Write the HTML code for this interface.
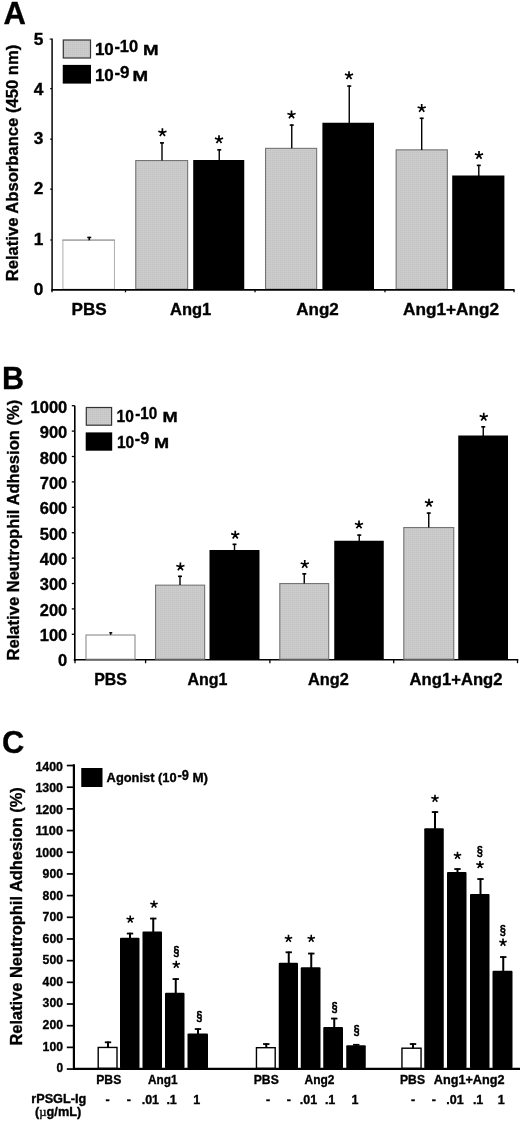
<!DOCTYPE html>
<html><head><meta charset="utf-8"><title>Figure</title>
<style>html,body{margin:0;padding:0;background:#fff;}svg{display:block;will-change:transform;}text{font-family:"Liberation Sans", sans-serif;fill:#000;stroke:#000;stroke-width:0.35px;}</style>
</head><body>
<svg width="520" height="1121" viewBox="0 0 520 1121">
<defs>
<pattern id="dots" width="2" height="2" patternUnits="userSpaceOnUse"><rect width="2" height="2" fill="#cbcbcb"/><rect width="1" height="1" fill="#c2c2c2"/></pattern>
<g id="ast"><path d="M0 0L0.00 -4.30M0 0L4.09 -1.33M0 0L2.53 3.48M0 0L-2.53 3.48M0 0L-4.09 -1.33" stroke="#000" stroke-width="1.7" stroke-linecap="butt" fill="none"/></g>
<g id="astc"><path d="M0 0L0.00 -3.90M0 0L3.71 -1.21M0 0L2.29 3.16M0 0L-2.29 3.16M0 0L-3.71 -1.21" stroke="#000" stroke-width="1.6" stroke-linecap="butt" fill="none"/></g>
</defs>
<rect width="520" height="1121" fill="#fff"/>
<text x="3.4" y="24.1" font-size="31" text-anchor="start" font-weight="bold">A</text>
<rect x="62.9" y="240.1" width="51.5" height="49.1" fill="#fff" stroke="#a4a4a4" stroke-width="0.9"/>
<line x1="62.4" y1="240.05" x2="114.9" y2="240.05" stroke="#8c8c8c" stroke-width="0.9"/>
<rect x="135.75" y="160.55" width="51.9" height="128.65" fill="url(#dots)" stroke="#747474" stroke-width="1.1"/>
<rect x="193.2" y="160" width="51.05" height="129.2" fill="#000"/>
<rect x="265.55" y="148.35000000000002" width="51.1" height="140.85" fill="url(#dots)" stroke="#747474" stroke-width="1.1"/>
<rect x="322.4" y="122.75" width="51.6" height="166.45" fill="#000"/>
<rect x="396.15000000000003" y="149.85000000000002" width="51.2" height="139.35" fill="url(#dots)" stroke="#747474" stroke-width="1.1"/>
<rect x="452.2" y="175.5" width="52.2" height="113.7" fill="#000"/>
<line x1="162" y1="142.3" x2="162" y2="160.5" stroke="#000" stroke-width="1.4"/>
<line x1="160.0" y1="142.90000000000003" x2="164.0" y2="142.90000000000003" stroke="#000" stroke-width="1.6"/>
<line x1="219.25" y1="149.25" x2="219.25" y2="160.5" stroke="#000" stroke-width="1.4"/>
<line x1="217.25" y1="149.85000000000002" x2="221.25" y2="149.85000000000002" stroke="#000" stroke-width="1.6"/>
<line x1="291.75" y1="124.5" x2="291.75" y2="148.3" stroke="#000" stroke-width="1.4"/>
<line x1="289.75" y1="125.1" x2="293.75" y2="125.1" stroke="#000" stroke-width="1.6"/>
<line x1="349.25" y1="85.5" x2="349.25" y2="123.25" stroke="#000" stroke-width="1.4"/>
<line x1="347.25" y1="86.1" x2="351.25" y2="86.1" stroke="#000" stroke-width="1.6"/>
<line x1="421.7" y1="117.7" x2="421.7" y2="150.0" stroke="#000" stroke-width="1.4"/>
<line x1="419.7" y1="118.3" x2="423.7" y2="118.3" stroke="#000" stroke-width="1.6"/>
<line x1="478.8" y1="164.8" x2="478.8" y2="176.1" stroke="#000" stroke-width="1.4"/>
<line x1="476.8" y1="165.40000000000003" x2="480.8" y2="165.40000000000003" stroke="#000" stroke-width="1.6"/>
<line x1="89.25" y1="236.9" x2="89.25" y2="240.3" stroke="#000" stroke-width="1.6"/>
<line x1="87.25" y1="237.45000000000002" x2="91.25" y2="237.45000000000002" stroke="#000" stroke-width="1.5"/>
<use href="#ast" x="162.4" y="132.6"/>
<use href="#ast" x="219" y="139.5"/>
<use href="#ast" x="291.5" y="114.8"/>
<use href="#ast" x="349" y="75.5"/>
<use href="#ast" x="421.7" y="108.3"/>
<use href="#ast" x="479" y="155.2"/>
<line x1="52.1" y1="38.6" x2="52.1" y2="290.6" stroke="#222" stroke-width="1.7"/>
<line x1="51.3" y1="289.9" x2="514.6" y2="289.9" stroke="#000" stroke-width="1.6"/>
<text x="43.4" y="295.4" font-size="17.3" text-anchor="end" font-weight="bold">0</text>
<line x1="50.2" y1="240.0" x2="52" y2="240.0" stroke="#000" stroke-width="1.2"/>
<text x="43.4" y="244.8" font-size="17.3" text-anchor="end" font-weight="bold">1</text>
<line x1="50.2" y1="189.2" x2="52" y2="189.2" stroke="#000" stroke-width="1.2"/>
<text x="43.4" y="194.3" font-size="17.3" text-anchor="end" font-weight="bold">2</text>
<line x1="50.2" y1="139.2" x2="52" y2="139.2" stroke="#000" stroke-width="1.2"/>
<text x="43.4" y="144.0" font-size="17.3" text-anchor="end" font-weight="bold">3</text>
<line x1="50.2" y1="88.7" x2="52" y2="88.7" stroke="#000" stroke-width="1.2"/>
<text x="43.4" y="94.5" font-size="17.3" text-anchor="end" font-weight="bold">4</text>
<line x1="49.6" y1="39.1" x2="52" y2="39.1" stroke="#000" stroke-width="1.0"/>
<text x="43.4" y="44.8" font-size="17.3" text-anchor="end" font-weight="bold">5</text>
<line x1="52" y1="290" x2="52" y2="292.3" stroke="#000" stroke-width="1.3"/>
<line x1="125.5" y1="290" x2="125.5" y2="292.3" stroke="#000" stroke-width="1.3"/>
<line x1="255" y1="290" x2="255" y2="292.3" stroke="#000" stroke-width="1.3"/>
<line x1="385" y1="290" x2="385" y2="292.3" stroke="#000" stroke-width="1.3"/>
<line x1="514" y1="290" x2="514" y2="292.3" stroke="#000" stroke-width="1.3"/>
<text x="71.5" y="315" font-size="16.5" text-anchor="start" font-weight="bold" textLength="35.25" lengthAdjust="spacingAndGlyphs">PBS</text>
<text x="170" y="315" font-size="16.5" text-anchor="start" font-weight="bold" textLength="41.25" lengthAdjust="spacingAndGlyphs">Ang1</text>
<text x="296.25" y="315" font-size="16.5" text-anchor="start" font-weight="bold" textLength="42.5" lengthAdjust="spacingAndGlyphs">Ang2</text>
<text x="403" y="315" font-size="16.5" text-anchor="start" font-weight="bold" textLength="96" lengthAdjust="spacingAndGlyphs">Ang1+Ang2</text>
<rect x="63.3" y="40" width="27.2" height="18" fill="url(#dots)" stroke="#333" stroke-width="1.2"/>
<rect x="62.75" y="64.9" width="28.25" height="18.7" fill="#000"/>
<text x="94.9" y="54.9" font-size="17" text-anchor="start" font-weight="bold">10</text>
<text x="114.4" y="51.6" font-size="17" text-anchor="start" font-weight="bold" textLength="23.8" lengthAdjust="spacingAndGlyphs">-10</text>
<text x="143.1" y="54.9" font-size="15" text-anchor="start" font-weight="bold" textLength="15.6" lengthAdjust="spacingAndGlyphs">M</text>
<text x="94.9" y="81.2" font-size="17" text-anchor="start" font-weight="bold">10</text>
<text x="114.4" y="77.9" font-size="17" text-anchor="start" font-weight="bold" textLength="15.1" lengthAdjust="spacingAndGlyphs">-9</text>
<text x="132.6" y="81.2" font-size="15" text-anchor="start" font-weight="bold" textLength="15.6" lengthAdjust="spacingAndGlyphs">M</text>
<text transform="translate(18.2,281.3) rotate(-90)" x="0" y="0" font-size="16.5" font-weight="bold" textLength="236.5" lengthAdjust="spacingAndGlyphs">Relative Absorbance (450 nm)</text>
<text x="1.9" y="388.7" font-size="30.5" text-anchor="start" font-weight="bold">B</text>
<line x1="74.8" y1="405.8" x2="74.8" y2="661" stroke="#000" stroke-width="1.6"/>
<line x1="73.7" y1="659.75" x2="518.3" y2="659.75" stroke="#000" stroke-width="1.6"/>
<text x="67.3" y="666.35" font-size="16.5" text-anchor="end" font-weight="bold">0</text>
<line x1="71.8" y1="634.3000000000001" x2="74.8" y2="634.3000000000001" stroke="#000" stroke-width="1.3"/>
<text x="67.3" y="641.02" font-size="16.5" text-anchor="end" font-weight="bold">100</text>
<line x1="71.8" y1="608.9000000000001" x2="74.8" y2="608.9000000000001" stroke="#000" stroke-width="1.3"/>
<text x="67.3" y="615.69" font-size="16.5" text-anchor="end" font-weight="bold">200</text>
<line x1="71.8" y1="583.5" x2="74.8" y2="583.5" stroke="#000" stroke-width="1.3"/>
<text x="67.3" y="590.36" font-size="16.5" text-anchor="end" font-weight="bold">300</text>
<line x1="71.8" y1="558.1" x2="74.8" y2="558.1" stroke="#000" stroke-width="1.3"/>
<text x="67.3" y="565.03" font-size="16.5" text-anchor="end" font-weight="bold">400</text>
<line x1="71.8" y1="532.7" x2="74.8" y2="532.7" stroke="#000" stroke-width="1.3"/>
<text x="67.3" y="539.7" font-size="16.5" text-anchor="end" font-weight="bold">500</text>
<line x1="71.8" y1="507.3" x2="74.8" y2="507.3" stroke="#000" stroke-width="1.3"/>
<text x="67.3" y="514.37" font-size="16.5" text-anchor="end" font-weight="bold">600</text>
<line x1="71.8" y1="481.90000000000003" x2="74.8" y2="481.90000000000003" stroke="#000" stroke-width="1.3"/>
<text x="67.3" y="489.04" font-size="16.5" text-anchor="end" font-weight="bold">700</text>
<line x1="71.8" y1="456.5" x2="74.8" y2="456.5" stroke="#000" stroke-width="1.3"/>
<text x="67.3" y="463.71" font-size="16.5" text-anchor="end" font-weight="bold">800</text>
<line x1="71.8" y1="431.09999999999997" x2="74.8" y2="431.09999999999997" stroke="#000" stroke-width="1.3"/>
<text x="67.3" y="438.38" font-size="16.5" text-anchor="end" font-weight="bold">900</text>
<line x1="71.8" y1="405.7" x2="74.8" y2="405.7" stroke="#000" stroke-width="1.3"/>
<text x="67.3" y="413.05" font-size="16.5" text-anchor="end" font-weight="bold">1000</text>
<line x1="75" y1="660" x2="75" y2="663.2" stroke="#000" stroke-width="1.3"/>
<line x1="145.6" y1="660" x2="145.6" y2="663.2" stroke="#000" stroke-width="1.3"/>
<line x1="269.9" y1="660" x2="269.9" y2="663.2" stroke="#000" stroke-width="1.3"/>
<line x1="393.7" y1="660" x2="393.7" y2="663.2" stroke="#000" stroke-width="1.3"/>
<line x1="517.5" y1="660" x2="517.5" y2="663.2" stroke="#000" stroke-width="1.3"/>
<rect x="86.0" y="635.0" width="49.0" height="24.2" fill="#fff" stroke="#808080" stroke-width="1"/>
<rect x="155.55" y="585.15" width="49.1" height="74.05" fill="url(#dots)" stroke="#747474" stroke-width="1.1"/>
<rect x="209.5" y="550" width="50.0" height="109.2" fill="#000"/>
<rect x="279.8" y="583.55" width="48.9" height="75.65" fill="url(#dots)" stroke="#747474" stroke-width="1.1"/>
<rect x="334.25" y="540.75" width="49.5" height="118.45" fill="#000"/>
<rect x="403.8" y="527.55" width="49.95" height="131.65" fill="url(#dots)" stroke="#747474" stroke-width="1.1"/>
<rect x="458.25" y="435.5" width="49.75" height="223.7" fill="#000"/>
<line x1="180" y1="575.75" x2="180" y2="585.1" stroke="#000" stroke-width="1.4"/>
<line x1="178.0" y1="576.3499999999999" x2="182.0" y2="576.3499999999999" stroke="#000" stroke-width="1.6"/>
<line x1="234.5" y1="543.75" x2="234.5" y2="550.5" stroke="#000" stroke-width="1.4"/>
<line x1="232.5" y1="544.3499999999999" x2="236.5" y2="544.3499999999999" stroke="#000" stroke-width="1.6"/>
<line x1="304.25" y1="573.25" x2="304.25" y2="583.5" stroke="#000" stroke-width="1.4"/>
<line x1="302.25" y1="573.8499999999999" x2="306.25" y2="573.8499999999999" stroke="#000" stroke-width="1.6"/>
<line x1="359.25" y1="534.5" x2="359.25" y2="541.25" stroke="#000" stroke-width="1.4"/>
<line x1="357.25" y1="535.0999999999999" x2="361.25" y2="535.0999999999999" stroke="#000" stroke-width="1.6"/>
<line x1="428.75" y1="512.5" x2="428.75" y2="527.5" stroke="#000" stroke-width="1.4"/>
<line x1="426.75" y1="513.0999999999999" x2="430.75" y2="513.0999999999999" stroke="#000" stroke-width="1.6"/>
<line x1="483.25" y1="426.25" x2="483.25" y2="436.0" stroke="#000" stroke-width="1.4"/>
<line x1="481.25" y1="426.85" x2="485.25" y2="426.85" stroke="#000" stroke-width="1.6"/>
<line x1="110.75" y1="632.3" x2="110.75" y2="635" stroke="#000" stroke-width="1.2"/>
<line x1="109.25" y1="632.8" x2="112.25" y2="632.8" stroke="#000" stroke-width="1.4"/>
<use href="#ast" x="180.4" y="566.8"/>
<use href="#ast" x="235.25" y="535"/>
<use href="#ast" x="304.75" y="564.3"/>
<use href="#ast" x="359" y="524.8"/>
<use href="#ast" x="429" y="503"/>
<use href="#ast" x="483.75" y="417"/>
<text x="94.25" y="684.6" font-size="16.5" text-anchor="start" font-weight="bold" textLength="32.75" lengthAdjust="spacingAndGlyphs">PBS</text>
<text x="187.5" y="684.6" font-size="16.5" text-anchor="start" font-weight="bold" textLength="40.0" lengthAdjust="spacingAndGlyphs">Ang1</text>
<text x="308" y="684.6" font-size="16.5" text-anchor="start" font-weight="bold" textLength="40.75" lengthAdjust="spacingAndGlyphs">Ang2</text>
<text x="409.6" y="684.6" font-size="16.5" text-anchor="start" font-weight="bold" textLength="92.9" lengthAdjust="spacingAndGlyphs">Ang1+Ang2</text>
<rect x="86.3" y="407.5" width="25.3" height="17.7" fill="url(#dots)" stroke="#333" stroke-width="1.2"/>
<rect x="85.7" y="432.4" width="26.5" height="18.3" fill="#000"/>
<text x="116.6" y="422.2" font-size="16" text-anchor="start" font-weight="bold" textLength="17.3" lengthAdjust="spacingAndGlyphs">10</text>
<text x="135.2" y="418.8" font-size="16" text-anchor="start" font-weight="bold" textLength="22" lengthAdjust="spacingAndGlyphs">-10</text>
<text x="162.4" y="422.2" font-size="15" text-anchor="start" font-weight="bold" textLength="15.2" lengthAdjust="spacingAndGlyphs">M</text>
<text x="116.9" y="447.5" font-size="16" text-anchor="start" font-weight="bold" textLength="17.3" lengthAdjust="spacingAndGlyphs">10</text>
<text x="134.8" y="443.9" font-size="16" text-anchor="start" font-weight="bold" textLength="14.3" lengthAdjust="spacingAndGlyphs">-9</text>
<text x="153.9" y="447.5" font-size="15" text-anchor="start" font-weight="bold" textLength="15.1" lengthAdjust="spacingAndGlyphs">M</text>
<text transform="translate(19,660.4) rotate(-90)" x="0" y="0" font-size="16.5" font-weight="bold" textLength="260.59999999999997" lengthAdjust="spacingAndGlyphs">Relative Neutrophil Adhesion (%)</text>
<text x="2.0" y="753" font-size="30.8" text-anchor="start" font-weight="bold">C</text>
<line x1="73.9" y1="764.3" x2="73.9" y2="1070.1" stroke="#000" stroke-width="2.2"/>
<line x1="73.2" y1="1068.9" x2="520" y2="1068.9" stroke="#000" stroke-width="2.4"/>
<line x1="66.8" y1="1069.05" x2="73.9" y2="1069.05" stroke="#000" stroke-width="1.7"/>
<text x="56.4" y="1072.06" font-size="13" text-anchor="start" font-weight="bold" textLength="6.6" lengthAdjust="spacingAndGlyphs">0</text>
<line x1="66.8" y1="1047.37" x2="73.9" y2="1047.37" stroke="#000" stroke-width="1.7"/>
<text x="42.6" y="1050.53" font-size="13" text-anchor="start" font-weight="bold" textLength="20.4" lengthAdjust="spacingAndGlyphs">100</text>
<line x1="66.8" y1="1025.69" x2="73.9" y2="1025.69" stroke="#000" stroke-width="1.7"/>
<text x="42.6" y="1029.0" font-size="13" text-anchor="start" font-weight="bold" textLength="20.4" lengthAdjust="spacingAndGlyphs">200</text>
<line x1="66.8" y1="1004.01" x2="73.9" y2="1004.01" stroke="#000" stroke-width="1.7"/>
<text x="42.6" y="1007.4699999999999" font-size="13" text-anchor="start" font-weight="bold" textLength="20.4" lengthAdjust="spacingAndGlyphs">300</text>
<line x1="66.8" y1="982.3299999999999" x2="73.9" y2="982.3299999999999" stroke="#000" stroke-width="1.7"/>
<text x="42.6" y="985.9399999999999" font-size="13" text-anchor="start" font-weight="bold" textLength="20.4" lengthAdjust="spacingAndGlyphs">400</text>
<line x1="66.8" y1="960.65" x2="73.9" y2="960.65" stroke="#000" stroke-width="1.7"/>
<text x="42.6" y="964.41" font-size="13" text-anchor="start" font-weight="bold" textLength="20.4" lengthAdjust="spacingAndGlyphs">500</text>
<line x1="66.8" y1="938.97" x2="73.9" y2="938.97" stroke="#000" stroke-width="1.7"/>
<text x="42.6" y="942.8799999999999" font-size="13" text-anchor="start" font-weight="bold" textLength="20.4" lengthAdjust="spacingAndGlyphs">600</text>
<line x1="66.8" y1="917.29" x2="73.9" y2="917.29" stroke="#000" stroke-width="1.7"/>
<text x="42.6" y="921.3499999999999" font-size="13" text-anchor="start" font-weight="bold" textLength="20.4" lengthAdjust="spacingAndGlyphs">700</text>
<line x1="66.8" y1="895.6099999999999" x2="73.9" y2="895.6099999999999" stroke="#000" stroke-width="1.7"/>
<text x="42.6" y="899.8199999999999" font-size="13" text-anchor="start" font-weight="bold" textLength="20.4" lengthAdjust="spacingAndGlyphs">800</text>
<line x1="66.8" y1="873.93" x2="73.9" y2="873.93" stroke="#000" stroke-width="1.7"/>
<text x="42.6" y="878.29" font-size="13" text-anchor="start" font-weight="bold" textLength="20.4" lengthAdjust="spacingAndGlyphs">900</text>
<line x1="66.8" y1="852.25" x2="73.9" y2="852.25" stroke="#000" stroke-width="1.7"/>
<text x="35.4" y="856.76" font-size="13" text-anchor="start" font-weight="bold" textLength="27.6" lengthAdjust="spacingAndGlyphs">1000</text>
<line x1="66.8" y1="830.5699999999999" x2="73.9" y2="830.5699999999999" stroke="#000" stroke-width="1.7"/>
<text x="35.4" y="835.2299999999999" font-size="13" text-anchor="start" font-weight="bold" textLength="27.6" lengthAdjust="spacingAndGlyphs">1100</text>
<line x1="66.8" y1="808.89" x2="73.9" y2="808.89" stroke="#000" stroke-width="1.7"/>
<text x="35.4" y="813.6999999999999" font-size="13" text-anchor="start" font-weight="bold" textLength="27.6" lengthAdjust="spacingAndGlyphs">1200</text>
<line x1="66.8" y1="787.21" x2="73.9" y2="787.21" stroke="#000" stroke-width="1.7"/>
<text x="35.4" y="792.17" font-size="13" text-anchor="start" font-weight="bold" textLength="27.6" lengthAdjust="spacingAndGlyphs">1300</text>
<line x1="66.8" y1="765.53" x2="73.9" y2="765.53" stroke="#000" stroke-width="1.7"/>
<text x="35.4" y="770.6399999999999" font-size="13" text-anchor="start" font-weight="bold" textLength="27.6" lengthAdjust="spacingAndGlyphs">1400</text>
<rect x="98.2" y="1047.45" width="18.8" height="20.75" fill="#fff" stroke="#000" stroke-width="1.4"/>
<rect x="256.45" y="1047.7" width="18.75" height="20.5" fill="#fff" stroke="#000" stroke-width="1.4"/>
<rect x="401.95" y="1048.2" width="19.1" height="20.0" fill="#fff" stroke="#000" stroke-width="1.4"/>
<rect x="120" y="937.75" width="19.5" height="130.45" fill="#000" rx="1" ry="1"/>
<rect x="142.5" y="931.5" width="19.5" height="136.7" fill="#000" rx="1" ry="1"/>
<rect x="165" y="992.75" width="19.5" height="75.45" fill="#000" rx="1" ry="1"/>
<rect x="187.5" y="1033.5" width="20.5" height="34.7" fill="#000" rx="1" ry="1"/>
<rect x="278.75" y="962.75" width="19.25" height="105.45" fill="#000" rx="1" ry="1"/>
<rect x="300.75" y="967.25" width="19.75" height="100.95" fill="#000" rx="1" ry="1"/>
<rect x="323.25" y="1027.0" width="19.75" height="41.2" fill="#000" rx="1" ry="1"/>
<rect x="346.25" y="1045.25" width="19.5" height="22.95" fill="#000" rx="1" ry="1"/>
<rect x="424.25" y="828.25" width="19.5" height="239.95" fill="#000" rx="1" ry="1"/>
<rect x="447" y="872.0" width="19.5" height="196.2" fill="#000" rx="1" ry="1"/>
<rect x="470" y="894.0" width="19.5" height="174.2" fill="#000" rx="1" ry="1"/>
<rect x="492.5" y="970.75" width="20.0" height="97.45" fill="#000" rx="1" ry="1"/>
<line x1="108" y1="1041.6" x2="108" y2="1047.75" stroke="#000" stroke-width="2"/>
<line x1="104.8" y1="1042.3" x2="111.2" y2="1042.3" stroke="#000" stroke-width="1.8"/>
<line x1="266.25" y1="1043.35" x2="266.25" y2="1048" stroke="#000" stroke-width="2"/>
<line x1="263.05" y1="1044.05" x2="269.45" y2="1044.05" stroke="#000" stroke-width="1.8"/>
<line x1="413" y1="1043.35" x2="413" y2="1048.5" stroke="#000" stroke-width="2"/>
<line x1="409.8" y1="1044.05" x2="416.2" y2="1044.05" stroke="#000" stroke-width="1.8"/>
<line x1="130" y1="932.85" x2="130" y2="939.75" stroke="#000" stroke-width="2"/>
<line x1="126.8" y1="933.55" x2="133.2" y2="933.55" stroke="#000" stroke-width="1.8"/>
<line x1="153.25" y1="917.85" x2="153.25" y2="933.5" stroke="#000" stroke-width="2"/>
<line x1="150.05" y1="918.55" x2="156.45" y2="918.55" stroke="#000" stroke-width="1.8"/>
<line x1="175.75" y1="978.35" x2="175.75" y2="994.75" stroke="#000" stroke-width="2"/>
<line x1="172.55" y1="979.05" x2="178.95" y2="979.05" stroke="#000" stroke-width="1.8"/>
<line x1="198" y1="1028.35" x2="198" y2="1035.5" stroke="#000" stroke-width="2"/>
<line x1="194.8" y1="1029.05" x2="201.2" y2="1029.05" stroke="#000" stroke-width="1.8"/>
<line x1="288.75" y1="951.6" x2="288.75" y2="964.75" stroke="#000" stroke-width="2"/>
<line x1="285.55" y1="952.3" x2="291.95" y2="952.3" stroke="#000" stroke-width="1.8"/>
<line x1="311.25" y1="952.85" x2="311.25" y2="969.25" stroke="#000" stroke-width="2"/>
<line x1="308.05" y1="953.55" x2="314.45" y2="953.55" stroke="#000" stroke-width="1.8"/>
<line x1="334.25" y1="1017.85" x2="334.25" y2="1029" stroke="#000" stroke-width="2"/>
<line x1="331.05" y1="1018.55" x2="337.45" y2="1018.55" stroke="#000" stroke-width="1.8"/>
<line x1="356.25" y1="1044.1" x2="356.25" y2="1047.25" stroke="#000" stroke-width="2"/>
<line x1="353.05" y1="1044.8" x2="359.45" y2="1044.8" stroke="#000" stroke-width="1.8"/>
<line x1="435" y1="811.35" x2="435" y2="830.25" stroke="#000" stroke-width="2"/>
<line x1="431.8" y1="812.05" x2="438.2" y2="812.05" stroke="#000" stroke-width="1.8"/>
<line x1="457.5" y1="868.35" x2="457.5" y2="874" stroke="#000" stroke-width="2"/>
<line x1="454.3" y1="869.05" x2="460.7" y2="869.05" stroke="#000" stroke-width="1.8"/>
<line x1="480.5" y1="878.35" x2="480.5" y2="896" stroke="#000" stroke-width="2"/>
<line x1="477.3" y1="879.05" x2="483.7" y2="879.05" stroke="#000" stroke-width="1.8"/>
<line x1="503.25" y1="956.35" x2="503.25" y2="972.75" stroke="#000" stroke-width="2"/>
<line x1="500.05" y1="957.05" x2="506.45" y2="957.05" stroke="#000" stroke-width="1.8"/>
<use href="#astc" x="130.25" y="919.35"/>
<use href="#astc" x="154" y="904.35"/>
<use href="#astc" x="176.25" y="964.6"/>
<use href="#astc" x="288.5" y="938.6"/>
<use href="#astc" x="311.25" y="938.6"/>
<use href="#astc" x="435" y="798.6"/>
<use href="#astc" x="457.5" y="855.6"/>
<use href="#astc" x="480" y="864.85"/>
<use href="#astc" x="503" y="942.5"/>
<text x="176.25" y="955.38" font-size="13.6" text-anchor="middle" font-weight="normal" style="stroke-width:0.75px" textLength="6.1" lengthAdjust="spacingAndGlyphs">§</text>
<text x="199.4" y="1019.63" font-size="13.6" text-anchor="middle" font-weight="normal" style="stroke-width:0.75px" textLength="6.1" lengthAdjust="spacingAndGlyphs">§</text>
<text x="334.6" y="1010.63" font-size="13.6" text-anchor="middle" font-weight="normal" style="stroke-width:0.75px" textLength="6.1" lengthAdjust="spacingAndGlyphs">§</text>
<text x="356.6" y="1034.38" font-size="13.6" text-anchor="middle" font-weight="normal" style="stroke-width:0.75px" textLength="6.1" lengthAdjust="spacingAndGlyphs">§</text>
<text x="479.9" y="854.63" font-size="13.6" text-anchor="middle" font-weight="normal" style="stroke-width:0.75px" textLength="6.1" lengthAdjust="spacingAndGlyphs">§</text>
<text x="502.9" y="933.63" font-size="13.6" text-anchor="middle" font-weight="normal" style="stroke-width:0.75px" textLength="6.1" lengthAdjust="spacingAndGlyphs">§</text>
<text x="96.25" y="1084.4" font-size="13" text-anchor="start" font-weight="bold" textLength="25.0" lengthAdjust="spacingAndGlyphs">PBS</text>
<text x="148" y="1084.4" font-size="13" text-anchor="start" font-weight="bold" textLength="29.5" lengthAdjust="spacingAndGlyphs">Ang1</text>
<text x="253.75" y="1084.4" font-size="13" text-anchor="start" font-weight="bold" textLength="25.0" lengthAdjust="spacingAndGlyphs">PBS</text>
<text x="304.5" y="1084.4" font-size="13" text-anchor="start" font-weight="bold" textLength="30.0" lengthAdjust="spacingAndGlyphs">Ang2</text>
<text x="400" y="1084.4" font-size="13" text-anchor="start" font-weight="bold" textLength="25" lengthAdjust="spacingAndGlyphs">PBS</text>
<text x="433.75" y="1084.4" font-size="13" text-anchor="start" font-weight="bold" textLength="70.75" lengthAdjust="spacingAndGlyphs">Ang1+Ang2</text>
<text x="107.5" y="1104.2" font-size="12.5" text-anchor="middle" font-weight="bold">-</text>
<text x="128.75" y="1104.2" font-size="12.5" text-anchor="middle" font-weight="bold">-</text>
<text x="150.38" y="1104.2" font-size="12.5" text-anchor="middle" font-weight="bold">.01</text>
<text x="171.62" y="1104.2" font-size="12.5" text-anchor="middle" font-weight="bold">.1</text>
<text x="196.62" y="1104.2" font-size="12.5" text-anchor="middle" font-weight="bold">1</text>
<text x="268.12" y="1104.2" font-size="12.5" text-anchor="middle" font-weight="bold">-</text>
<text x="288.88" y="1104.2" font-size="12.5" text-anchor="middle" font-weight="bold">-</text>
<text x="308.5" y="1104.2" font-size="12.5" text-anchor="middle" font-weight="bold">.01</text>
<text x="330.12" y="1104.2" font-size="12.5" text-anchor="middle" font-weight="bold">.1</text>
<text x="355.0" y="1104.2" font-size="12.5" text-anchor="middle" font-weight="bold">1</text>
<text x="413.12" y="1104.2" font-size="12.5" text-anchor="middle" font-weight="bold">-</text>
<text x="433.88" y="1104.2" font-size="12.5" text-anchor="middle" font-weight="bold">-</text>
<text x="455.0" y="1104.2" font-size="12.5" text-anchor="middle" font-weight="bold">.01</text>
<text x="478.12" y="1104.2" font-size="12.5" text-anchor="middle" font-weight="bold">.1</text>
<text x="501.12" y="1104.2" font-size="12.5" text-anchor="middle" font-weight="bold">1</text>
<text x="31.25" y="1103.25" font-size="12.5" text-anchor="start" font-weight="bold" textLength="55.0" lengthAdjust="spacingAndGlyphs">rPSGL-Ig</text>
<text x="35" y="1115.75" font-size="12.5" text-anchor="start" font-weight="bold" textLength="46.25" lengthAdjust="spacingAndGlyphs">(<tspan font-family="Liberation Serif, serif" font-weight="normal">µ</tspan>g/mL)</text>
<rect x="81.25" y="768" width="21.25" height="19" fill="#000"/>
<text x="106.6" y="781.75" font-size="13.3" text-anchor="start" font-weight="bold" textLength="70.0" lengthAdjust="spacingAndGlyphs">Agonist (10</text>
<text x="177.6" y="779.8" font-size="14.5" text-anchor="start" font-weight="bold" textLength="11.4" lengthAdjust="spacingAndGlyphs">-9</text>
<text x="192.4" y="781.75" font-size="13.5" text-anchor="start" font-weight="bold" textLength="15.6" lengthAdjust="spacingAndGlyphs">M)</text>
<text transform="translate(21.7,1045.5) rotate(-90)" x="0" y="0" font-size="16.4" font-weight="bold" textLength="258.20000000000005" lengthAdjust="spacingAndGlyphs">Relative Neutrophil Adhesion (%)</text>
</svg></body></html>
